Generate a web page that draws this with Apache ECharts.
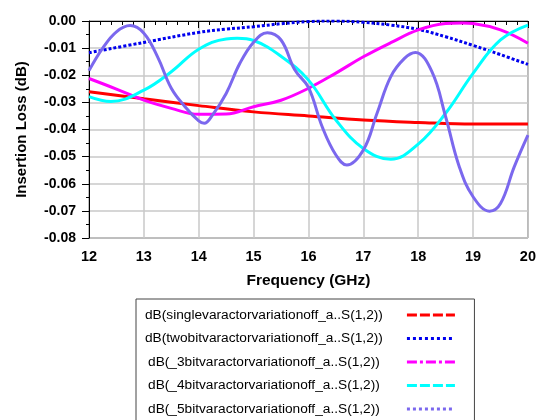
<!DOCTYPE html>
<html>
<head>
<meta charset="utf-8">
<script src="https://cdn.jsdelivr.net/npm/echarts@6/dist/echarts.min.js"></script>
<style>
  html, body { margin: 0; padding: 0; background: #fff; }
  #chart { width: 539px; height: 420px; }
</style>
</head>
<body>
<div id="chart"></div>
<script>
// Insertion loss of the varactor-loaded line for each switching state

const seriesNames = [
  'dB(singlevaractorvariationoff_a..S(1,2))',
  'dB(twobitvaractorvariationoff_a..S(1,2))',
  'dB(_3bitvaractorvariationoff_a..S(1,2))',
  'dB(_4bitvaractorvariationoff_a..S(1,2))',
  'dB(_5bitvaractorvariationoff_a..S(1,2))'
];

const singleFreq = [12, 13, 14, 15, 16, 17, 18, 19, 20];
const singleLoss = [-0.0261, -0.0287, -0.0312, -0.0335, -0.0350, -0.0365, -0.0374, -0.0380, -0.0380];

const twoBitFreq = [12, 13, 14, 14.5, 15, 15.5, 16, 16.5, 17, 17.5, 18, 18.5, 19, 19.5, 20];
const twoBitLoss = [-0.0117, -0.0079, -0.0042, -0.0030, -0.0021, -0.0010, -0.0002, 0.0000, -0.0005, -0.0015, -0.0031, -0.0058, -0.0090, -0.0124, -0.0160];

const threeBitFreq = [12, 12.5, 13, 13.5, 14, 14.5, 15, 15.5, 16, 16.5, 17, 17.5, 18, 18.5, 18.8, 19, 19.5, 20];
const threeBitLoss = [-0.0212, -0.0251, -0.0292, -0.0322, -0.0344, -0.0343, -0.0316, -0.0292, -0.0248, -0.0192, -0.0132, -0.0080, -0.0033, -0.0009, -0.0007, -0.0009, -0.0033, -0.0082];

const fourBitFreq = [12, 12.4, 13, 13.5, 14, 14.5, 14.7, 15, 15.5, 16, 16.5, 17, 17.5, 18, 18.5, 19, 19.5, 20];
const fourBitLoss = [-0.0279, -0.0297, -0.0255, -0.0187, -0.0104, -0.0066, -0.0064, -0.0072, -0.0130, -0.0218, -0.0365, -0.0470, -0.0510, -0.0454, -0.0340, -0.0193, -0.0070, -0.0015];

const fiveBitFreq = [12, 12.25, 12.5, 12.75, 13, 13.25, 13.5, 13.75, 14, 14.1, 14.25, 14.5, 14.75, 15, 15.25, 15.5, 15.75, 16, 16.25, 16.5, 16.7, 17, 17.25, 17.5, 17.75, 17.95, 18.25, 18.5, 18.75, 19, 19.3, 19.5, 19.75, 20];
const fiveBitLoss = [-0.0183, -0.0100, -0.0040, -0.0017, -0.0045, -0.0132, -0.0248, -0.0316, -0.0368, -0.0377, -0.0347, -0.0267, -0.0156, -0.0078, -0.0043, -0.0070, -0.0180, -0.0245, -0.0390, -0.0494, -0.0531, -0.0476, -0.0340, -0.0205, -0.0138, -0.0116, -0.0187, -0.0353, -0.0538, -0.0648, -0.0701, -0.0673, -0.0538, -0.0421];

const xTicks = [12, 13, 14, 15, 16, 17, 18, 19, 20];
const yTicks = [0, -0.01, -0.02, -0.03, -0.04, -0.05, -0.06, -0.07, -0.08];

const colors = ['#ff0000', '#0000ee', '#ff00ff', '#00ffff', '#7b68ee'];
const plotDash = ['solid', [3, 2], 'solid', 'solid', 'solid'];
const legendDash = [[10, 3], [3, 3], [10, 3, 3, 3], [10, 3], [3, 3]];

const freqSets = [singleFreq, twoBitFreq, threeBitFreq, fourBitFreq, fiveBitFreq];
const lossSets = [singleLoss, twoBitLoss, threeBitLoss, fourBitLoss, fiveBitLoss];

const FONT = '"Liberation Sans", Arial, sans-serif';

const series = seriesNames.map((name, i) => ({
  name: name,
  type: 'line',
  smooth: 0.4,
  symbol: 'none',
  data: freqSets[i].map((f, k) => [f, lossSets[i][k]]),
  lineStyle: { color: colors[i], width: 3, type: plotDash[i], cap: 'butt' },
  itemStyle: { color: colors[i] },
  z: 2 + i
}));

const chart = echarts.init(document.getElementById('chart'), null, { renderer: 'canvas' });
chart.setOption({
  animation: false,
  backgroundColor: '#ffffff',
  grid: {
    left: 89, right: 7, top: 21, bottom: 182,
    show: true, borderColor: '#444', borderWidth: 1
  },
  xAxis: {
    type: 'value',
    min: xTicks[0], max: xTicks[xTicks.length - 1], interval: 1,
    name: 'Frequency (GHz)',
    nameLocation: 'middle', nameGap: 35,
    nameTextStyle: { fontFamily: FONT, fontWeight: 'bold', fontSize: 15.5, color: '#000' },
    axisLine: { show: true, lineStyle: { color: '#000', width: 1 } },
    axisTick: { show: true, inside: false, length: 7, lineStyle: { color: '#000' } },
    minorTick: { show: true, splitNumber: 5, length: 4, lineStyle: { color: '#000' } },
    axisLabel: { fontFamily: FONT, fontWeight: 'bold', fontSize: 14.5, color: '#000', margin: 11 },
    splitLine: { show: true, lineStyle: { color: '#c8c8c8', width: 1.5 } }
  },
  yAxis: {
    type: 'value',
    min: yTicks[yTicks.length - 1], max: yTicks[0], interval: 0.01,
    name: 'Insertion Loss (dB)',
    nameLocation: 'middle', nameGap: 60, nameRotate: 90,
    nameTextStyle: { fontFamily: FONT, fontWeight: 'bold', fontSize: 15, color: '#000' },
    axisLine: { show: true, lineStyle: { color: '#000', width: 1 } },
    axisTick: { show: true, inside: false, length: 7, lineStyle: { color: '#000' } },
    minorTick: { show: true, splitNumber: 2, length: 3, lineStyle: { color: '#000' } },
    axisLabel: {
      fontFamily: FONT, fontWeight: 'bold', fontSize: 14, color: '#000', margin: 13,
      formatter: v => (Math.abs(v) < 1e-9 ? '0.00' : v.toFixed(2))
    },
    splitLine: { show: true, lineStyle: { color: '#c8c8c8', width: 1.5 } }
  },
  legend: {
    orient: 'vertical',
    left: 136, top: 299, height: 150,
    align: 'right',
    itemWidth: 48, itemHeight: 14, itemGap: 9.5,
    padding: [9, 18, 30, 9],
    borderColor: '#444', borderWidth: 1,
    backgroundColor: '#fff',
    selectedMode: false,
    formatter: name => '{t|' + name + '}{s|}',
    textStyle: {
      fontFamily: FONT, fontSize: 13.7, color: '#000',
      rich: {
        t: { fontFamily: FONT, fontSize: 13.7, color: '#000', width: 240, align: 'center' },
        s: { width: 18 }
      }
    },
    data: seriesNames.map((name, i) => ({
      name: name,
      itemStyle: { opacity: 0 },
      lineStyle: { color: colors[i], width: 3, type: legendDash[i], cap: 'butt' }
    }))
  },
  series: series
});
</script>
</body>
</html>
